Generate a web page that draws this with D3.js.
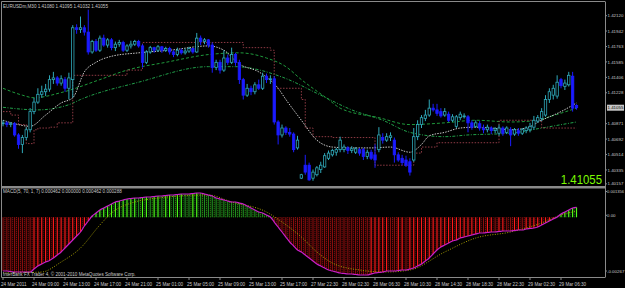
<!DOCTYPE html>
<html><head><meta charset="utf-8">
<script src="https://cdn.jsdelivr.net/npm/d3@7"></script>
<style>html,body{margin:0;padding:0;background:#000;}svg{display:block;}</style>
</head><body><svg id="c" width="625" height="288"></svg>
<script>
const chartTitle = "EURUSDm,M30  1.41080 1.41095 1.41032 1.41055";
const macdTitle = "MACD(5, 70, 1, 7) 0.000462 0.000000 0.000462 0.000288";
const copyright = "InterBank FX Trader 4, \u00a9 2001-2010 MetaQuotes Software Corp.";
const lastPrice = 1.41055;

const open = [1.4087,1.4088,1.4086,1.4087,1.4074,1.4063,1.4071,1.4080,1.4101,1.4112,
1.4121,1.4124,1.4127,1.4138,1.4140,1.4134,1.4138,1.4128,1.4138,1.4198,
1.4196,1.4198,1.4193,1.4170,1.4182,1.4172,1.4186,1.4178,1.4184,1.4175,
1.4179,1.4181,1.4172,1.4177,1.4179,1.4182,1.4177,1.4158,1.4170,1.4175,
1.4172,1.4176,1.4172,1.4174,1.4170,1.4167,1.4172,1.4169,1.4171,1.4174,
1.4170,1.4186,1.4182,1.4184,1.4178,1.4152,1.4158,1.4149,1.4163,1.4158,
1.4167,1.4158,1.4138,1.4120,1.4128,1.4124,1.4132,1.4128,1.4142,1.4138,
1.4139,1.4089,1.4074,1.4082,1.4077,1.4075,1.4059,1.4024,1.4039,1.4039,
1.4024,1.4028,1.4034,1.4037,1.4047,1.4051,1.4054,1.4057,1.4057,1.4059,
1.4056,1.4054,1.4057,1.4057,1.4049,1.4054,1.4051,1.4057,1.4071,1.4068,
1.4071,1.4068,1.4051,1.4047,1.4045,1.4043,1.4045,1.4072,1.4086,1.4093,
1.4097,1.4105,1.4103,1.4101,1.4097,1.4098,1.4091,1.4084,1.4094,1.4095,
1.4095,1.4088,1.4084,1.4087,1.4082,1.4080,1.4082,1.4079,1.4076,1.4082,
1.4077,1.4080,1.4075,1.4079,1.4076,1.4079,1.4080,1.4083,1.4090,1.4093,
1.4097,1.4115,1.4120,1.4119,1.4138,1.4130,1.4132,1.4142,1.41080];
const high = [1.4091,1.4090,1.4089,1.4089,1.4076,1.4074,1.4083,1.4105,1.4117,1.4128,
1.4131,1.4133,1.4143,1.4147,1.4142,1.4143,1.4141,1.4146,1.4201,1.4202,
1.4211,1.4201,1.4219,1.4184,1.4185,1.4189,1.4190,1.4186,1.4186,1.4182,
1.4184,1.4183,1.4179,1.4183,1.4184,1.4184,1.4179,1.4172,1.4177,1.4176,
1.4178,1.4177,1.4176,1.4176,1.4172,1.4175,1.4174,1.4174,1.4176,1.4175,
1.4192,1.4189,1.4186,1.4185,1.4181,1.4161,1.4161,1.4172,1.4167,1.4175,
1.4169,1.4161,1.4140,1.4133,1.4131,1.4135,1.4138,1.4146,1.4145,1.4143,
1.4142,1.4091,1.4086,1.4084,1.4082,1.4077,1.4073,1.4029,1.4051,1.4042,
1.4034,1.4038,1.4043,1.4053,1.4056,1.4058,1.4059,1.4072,1.4063,1.4061,
1.4061,1.4060,1.4059,1.4059,1.4057,1.4057,1.4063,1.4083,1.4076,1.4076,
1.4077,1.4071,1.4054,1.4051,1.4050,1.4047,1.4082,1.4091,1.4097,1.4103,
1.4115,1.4110,1.4110,1.4105,1.4105,1.4101,1.4098,1.4097,1.4101,1.4099,
1.4097,1.4091,1.4091,1.4090,1.4086,1.4086,1.4084,1.4083,1.4086,1.4084,
1.4084,1.4083,1.4082,1.4082,1.4082,1.4084,1.4088,1.4096,1.4097,1.4105,
1.4120,1.4128,1.4132,1.4143,1.4140,1.4138,1.4147,1.4147,1.41095];
const low = [1.4084,1.4083,1.4083,1.4072,1.4058,1.4053,1.4068,1.4077,1.4098,1.4110,
1.4117,1.4119,1.4124,1.4133,1.4131,1.4131,1.4124,1.4115,1.4117,1.4191,
1.4192,1.4189,1.4167,1.4168,1.4170,1.4170,1.4176,1.4175,1.4172,1.4171,
1.4176,1.4170,1.4170,1.4174,1.4177,1.4175,1.4152,1.4156,1.4168,1.4169,
1.4170,1.4169,1.4170,1.4167,1.4164,1.4165,1.4167,1.4167,1.4169,1.4168,
1.4169,1.4178,1.4179,1.4175,1.4146,1.4149,1.4145,1.4147,1.4155,1.4156,
1.4154,1.4133,1.4115,1.4118,1.4120,1.4121,1.4126,1.4126,1.4134,1.4133,
1.4086,1.4063,1.4071,1.4074,1.4072,1.4054,1.4057,1.4023,1.4028,1.4021,
1.4021,1.4026,1.4030,1.4036,1.4045,1.4049,1.4050,1.4054,1.4054,1.4052,
1.4053,1.4052,1.4050,1.4045,1.4046,1.4045,1.4036,1.4054,1.4064,1.4066,
1.4067,1.4042,1.4043,1.4039,1.4037,1.4027,1.4043,1.4068,1.4082,1.4090,
1.4095,1.4101,1.4096,1.4094,1.4095,1.4089,1.4089,1.4082,1.4091,1.4093,
1.4077,1.4080,1.4082,1.4079,1.4076,1.4077,1.4075,1.4076,1.4073,1.4073,
1.4075,1.4061,1.4073,1.4073,1.4074,1.4076,1.4077,1.4080,1.4088,1.4090,
1.4095,1.4111,1.4115,1.4116,1.4128,1.4126,1.4130,1.4101,1.41032];
const close = [1.4088,1.4086,1.4087,1.4074,1.4063,1.4071,1.4080,1.4101,1.4112,1.4121,
1.4124,1.4127,1.4138,1.4140,1.4134,1.4139,1.4128,1.4140,1.4198,1.4196,
1.4198,1.4193,1.4170,1.4182,1.4172,1.4186,1.4178,1.4184,1.4175,1.4179,
1.4181,1.4172,1.4177,1.4179,1.4182,1.4177,1.4158,1.4170,1.4175,1.4172,
1.4176,1.4172,1.4174,1.4170,1.4167,1.4172,1.4169,1.4171,1.4174,1.4170,
1.4186,1.4182,1.4184,1.4178,1.4152,1.4158,1.4149,1.4163,1.4158,1.4167,
1.4158,1.4138,1.4120,1.4128,1.4124,1.4132,1.4128,1.4142,1.4138,1.4139,
1.4089,1.4074,1.4082,1.4077,1.4075,1.4057,1.4068,1.4028,1.4031,1.4022,
1.4031,1.4036,1.4039,1.4050,1.4053,1.4056,1.4057,1.4068,1.4060,1.4056,
1.4058,1.4058,1.4053,1.4049,1.4054,1.4047,1.4045,1.4074,1.4068,1.4072,
1.4073,1.4051,1.4045,1.4042,1.4039,1.4031,1.4072,1.4086,1.4094,1.4097,
1.4105,1.4103,1.4099,1.4096,1.4101,1.4091,1.4095,1.4095,1.4098,1.4096,
1.4088,1.4083,1.4088,1.4082,1.4080,1.4083,1.4079,1.4081,1.4082,1.4076,
1.4082,1.4074,1.4080,1.4076,1.4080,1.4082,1.4084,1.4091,1.4094,1.4101,
1.4115,1.4124,1.4128,1.4135,1.4131,1.4134,1.4143,1.4105,1.41055];

// indicator lines: [bar index, price]
const maWhite = [[0,1.4091],[3,1.4087],[7,1.4084],[11,1.4097],[15,1.4111],[18,1.4117],[21,1.4147],[24,1.4158],[28,1.4165],[35,1.4169],[43,1.4172],[53,1.4177],[57,1.4172],[61,1.4156],[66,1.4147],[68,1.4141],[71,1.4128],[73,1.4115],[77,1.4091],[81,1.4068],[85,1.4060],[90,1.4059],[95,1.4059],[100,1.4060],[105,1.4054],[108,1.4063],[110,1.4073],[114,1.4077],[118,1.4082],[122,1.4083],[126,1.4082],[131,1.4080],[135,1.4082],[139,1.4091],[144,1.4101],[148,1.4111]];
const maGreenA = [[0,1.4128],[5,1.4120],[8,1.4117],[15,1.4123],[25,1.4138],[32,1.4149],[42,1.4158],[53,1.4167],[61,1.4169],[68,1.4163],[73,1.4153],[77,1.4138],[84,1.4115],[87,1.4105],[97,1.4094],[105,1.4086],[114,1.4088],[122,1.4091],[131,1.4089],[138,1.4091],[141,1.4095],[148,1.4105]];
const maGreenB = [[0,1.4106],[9,1.4103],[17,1.4109],[20,1.4115],[35,1.4135],[53,1.4153],[60,1.4153],[72,1.4141],[82,1.4120],[90,1.4103],[98,1.4091],[105,1.4077],[114,1.4072],[120,1.4074],[131,1.4076],[139,1.4082],[148,1.4089]];
const stopLine = [[0,1.4101],[2,1.4097],[4,1.4086],[6,1.4064],[8,1.4080],[9,1.4082],[12,1.4083],[14,1.4088],[18,1.4143],[32,1.4149],[36,1.4181],[62,1.4175],[69,1.4172],[70,1.4128],[77,1.4115],[78,1.4082],[80,1.4072],[85,1.4071],[96,1.4039],[106,1.4053],[108,1.4060],[112,1.4065],[128,1.4091],[139,1.4082],[148,1.4082]];

const priceTicks = [1.42120,1.41942,1.41763,1.41585,1.41406,1.41228,1.40871,1.40692,1.40514,1.40335,1.40157];
const timeLabels = ["24 Mar 2011","24 Mar 09:00","24 Mar 13:00","24 Mar 17:00","24 Mar 21:00","25 Mar 01:00","25 Mar 05:00","25 Mar 09:00","25 Mar 13:00","25 Mar 17:00","27 Mar 22:30","28 Mar 02:30","28 Mar 06:30","28 Mar 10:30","28 Mar 14:30","28 Mar 18:30","28 Mar 22:30","29 Mar 02:30","29 Mar 06:30"];

const macdMain = [-0.002486,-0.002486,-0.002509,-0.002532,-0.002532,-0.002532,-0.002532,-0.002532,-0.002393,-0.002254,
-0.002162,-0.002069,-0.002000,-0.001884,-0.001745,-0.001606,-0.001421,-0.001236,-0.001051,-0.000865,
-0.000680,-0.000403,-0.000171,0.000060,0.000199,0.000338,0.000430,0.000523,0.000616,0.000708,
0.000754,0.000801,0.000847,0.000870,0.000893,0.000893,0.000916,0.000939,0.000939,0.000963,
0.000986,0.000986,0.001009,0.001032,0.001032,0.001055,0.001078,0.001078,0.001078,0.001101,
0.001125,0.001125,0.001078,0.001032,0.000986,0.000893,0.000847,0.000801,0.000754,0.000708,
0.000708,0.000662,0.000616,0.000523,0.000430,0.000338,0.000245,0.000199,0.000106,0.000014,
-0.000218,-0.000449,-0.000680,-0.000912,-0.001143,-0.001328,-0.001514,-0.001606,-0.001745,-0.001884,
-0.002023,-0.002162,-0.002254,-0.002347,-0.002439,-0.002486,-0.002532,-0.002578,-0.002601,-0.002624,
-0.002624,-0.002647,-0.002670,-0.002670,-0.002670,-0.002624,-0.002578,-0.002555,-0.002532,-0.002486,
-0.002486,-0.002486,-0.002462,-0.002439,-0.002439,-0.002393,-0.002347,-0.002254,-0.002162,-0.002023,
-0.001884,-0.001699,-0.001514,-0.001375,-0.001282,-0.001190,-0.001097,-0.001051,-0.000958,-0.000912,
-0.000865,-0.000819,-0.000773,-0.000727,-0.000727,-0.000703,-0.000680,-0.000680,-0.000657,-0.000634,
-0.000634,-0.000634,-0.000611,-0.000588,-0.000588,-0.000541,-0.000518,-0.000495,-0.000449,-0.000356,
-0.000264,-0.000171,-0.000079,0.000014,0.000153,0.000245,0.000338,0.000430,0.000462];
const macdSignal = [[0,-0.002578],[10,-0.002532],[15,-0.002069],[20,-0.001421],[25,-0.000356],[28,0.000199],[34,0.000708],[38,0.000847],[53,0.001032],[59,0.000708],[68,0.000245],[72,-0.000218],[77,-0.000912],[81,-0.001606],[85,-0.002115],[92,-0.002439],[99,-0.002532],[105,-0.002439],[114,-0.001606],[122,-0.000958],[131,-0.000680],[139,-0.000264],[144,0.000106],[148,0.000288]];
const macdTicks = [0.001356, 0, -0.00267];
const macdTickText = ["0.001356","0.00","-0.00267"];

const svg = d3.select("#c");
const W = 625, H = 288;
const right = 605;
svg.append("rect").attr("width",W).attr("height",H).attr("fill","#000");

const n = close.length;
const x = d3.scaleLinear().domain([0, n-1]).range([3, 3 + (n-1)*3.875]);
const y = d3.scaleLinear().domain([1.40161, 1.42278]).range([185, 2]);
const ym = d3.scaleLinear().domain([-0.00267, 0.001356]).range([275, 188]);

const defs = svg.append("defs");
defs.append("clipPath").attr("id","mainclip").append("rect").attr("x",2).attr("y",2).attr("width",right-2).attr("height",184);
defs.append("clipPath").attr("id","macdclip").append("rect").attr("x",2).attr("y",189).attr("width",right-2).attr("height",88);

const main = svg.append("g").attr("clip-path","url(#mainclip)");
const font = "Liberation Sans, Arial, sans-serif";

function mline(data, color, dash, w, curve) {
  main.append("path").datum(data)
    .attr("d", d3.line().x(d=>x(d[0])).y(d=>y(d[1])).curve(curve||d3.curveMonotoneX))
    .attr("fill","none").attr("stroke",color).attr("stroke-width",w).attr("stroke-dasharray",dash);
}
mline(maGreenB, "#21a04a", "3,1.5,1,1.5", 1);
mline(maGreenA, "#1f9a3c", "3,2", 1);
mline(stopLine, "#8e3a44", "1.5,1.5", 1, d3.curveStepAfter);
mline(maWhite, "#c8c8c8", "1.5,1.2", 1);

const bullC = "#2fa9b9", bearC = "#1b1bff";
const cg = main.append("g");
const idx = d3.range(n);
cg.selectAll("line.w").data(idx).join("line")
  .attr("x1",i=>x(i)).attr("x2",i=>x(i))
  .attr("y1",i=>y(high[i])).attr("y2",i=>y(low[i]))
  .attr("stroke",i=>close[i]>=open[i]?bullC:bearC).attr("stroke-width",1);
cg.selectAll("rect.b").data(idx).join("rect")
  .attr("x",i=>x(i)-1.2).attr("width",2.4)
  .attr("y",i=>y(Math.max(open[i],close[i])))
  .attr("height",i=>Math.max(0.8, Math.abs(y(open[i])-y(close[i]))))
  .attr("fill",i=>close[i]>=open[i]?"#000":bearC)
  .attr("stroke",i=>close[i]>=open[i]?bullC:bearC).attr("stroke-width",0.8);

// big current price (stretched vertically like the MT4 label)
main.append("g").attr("transform","translate(602,183.5) scale(1,1.2)")
  .append("text").attr("x",0).attr("y",0).attr("text-anchor","end")
  .attr("font-family",font).attr("font-size",11.4).attr("fill","#7cfc00").text(lastPrice.toFixed(5));

const mg = svg.append("g").attr("clip-path","url(#macdclip)");
const z = ym(0);
macdMain.forEach((v,i)=>{
  const prev = i>0 ? macdMain[i-1] : v;
  const rising = v > prev;
  let c1, c2;
  if (v < 0) { c1 = rising ? "#ff1a1a" : "#8a0e0e"; c2 = rising ? "#9a1010" : "#e01818"; }
  else { c1 = rising ? "#4cff1a" : "#1f8a1f"; c2 = rising ? "#1f8a1f" : "#44d41a"; }
  mg.append("line").attr("x1",x(i)).attr("x2",x(i)).attr("y1",z).attr("y2",ym(v))
    .attr("stroke",c1).attr("stroke-width",1.2);
  if (i < n-1) {
    mg.append("line").attr("x1",x(i)+1.95).attr("x2",x(i)+1.95).attr("y1",z).attr("y2",ym((v+macdMain[i+1])/2))
      .attr("stroke",c2).attr("stroke-width",0.9).attr("stroke-dasharray","1,1");
  }
});
mg.append("path").datum(macdSignal)
  .attr("d", d3.line().x(d=>x(d[0])).y(d=>ym(d[1])).curve(d3.curveMonotoneX))
  .attr("fill","none").attr("stroke","#a8a000").attr("stroke-width",1).attr("stroke-dasharray","1,1.5");
mg.append("path").datum(macdMain)
  .attr("d", d3.line().x((d,i)=>x(i)).y(d=>ym(d)).curve(d3.curveMonotoneX))
  .attr("fill","none").attr("stroke","#c81ec8").attr("stroke-width",1.2);

const grey = "#8a8a8a";
svg.append("line").attr("x1",1.5).attr("x2",right).attr("y1",1.5).attr("y2",1.5).attr("stroke",grey).attr("stroke-width",1);
svg.append("line").attr("x1",1.5).attr("x2",1.5).attr("y1",1.5).attr("y2",277.5).attr("stroke",grey).attr("stroke-width",1);
svg.append("line").attr("x1",right+0.5).attr("x2",right+0.5).attr("y1",1.5).attr("y2",277.5).attr("stroke",grey).attr("stroke-width",1);
svg.append("rect").attr("x",1).attr("y",186).attr("width",right).attr("height",2.5).attr("fill",grey);
svg.append("line").attr("x1",1.5).attr("x2",right).attr("y1",277.5).attr("y2",277.5).attr("stroke",grey).attr("stroke-width",1);

const txt = "#c8c8c8";
const fs = 4.4;
svg.append("text").attr("x",3).attr("y",7.5).attr("font-family",font).attr("font-size",4.6).attr("fill",txt).text(chartTitle);
svg.append("text").attr("x",3).attr("y",193).attr("font-family",font).attr("font-size",4.6).attr("fill",txt).text(macdTitle);
svg.append("text").attr("x",3).attr("y",276).attr("font-family",font).attr("font-size",4.6).attr("fill",txt).text(copyright);

const pa = svg.append("g");
priceTicks.forEach((p,k)=>{
  const yy = k===priceTicks.length-1 ? y(p)-1.5 : y(p);
  pa.append("line").attr("x1",right).attr("x2",right+2).attr("y1",yy).attr("y2",yy).attr("stroke",grey);
  pa.append("text").attr("x",607.5).attr("y",yy+1.6).attr("font-family",font).attr("font-size",fs).attr("fill",txt).text(p.toFixed(5));
});
pa.append("rect").attr("x",607).attr("y",y(lastPrice)-3).attr("width",17).attr("height",6).attr("fill","#c8c8c8");
pa.append("text").attr("x",607.5).attr("y",y(lastPrice)+1.6).attr("font-family",font).attr("font-size",fs).attr("fill","#000").text(lastPrice.toFixed(5));

macdTicks.forEach((v,k)=>{
  const yy = k===0 ? ym(v)+3.5 : (k===2 ? ym(v)-4 : ym(v)-2);
  pa.append("line").attr("x1",right).attr("x2",right+2).attr("y1",yy).attr("y2",yy).attr("stroke",grey);
  pa.append("text").attr("x",607).attr("y",yy+1.6).attr("font-family",font).attr("font-size",k===0?4.1:fs).attr("fill",txt).text(macdTickText[k]);
});

timeLabels.forEach((t,k)=>{
  const xx = x(k*8);
  pa.append("line").attr("x1",xx).attr("x2",xx).attr("y1",277.5).attr("y2",280).attr("stroke",grey);
  pa.append("text").attr("x",xx-2).attr("y",285.5).attr("font-family",font).attr("font-size",4.6).attr("fill",txt).text(t);
});
</script></body></html>
